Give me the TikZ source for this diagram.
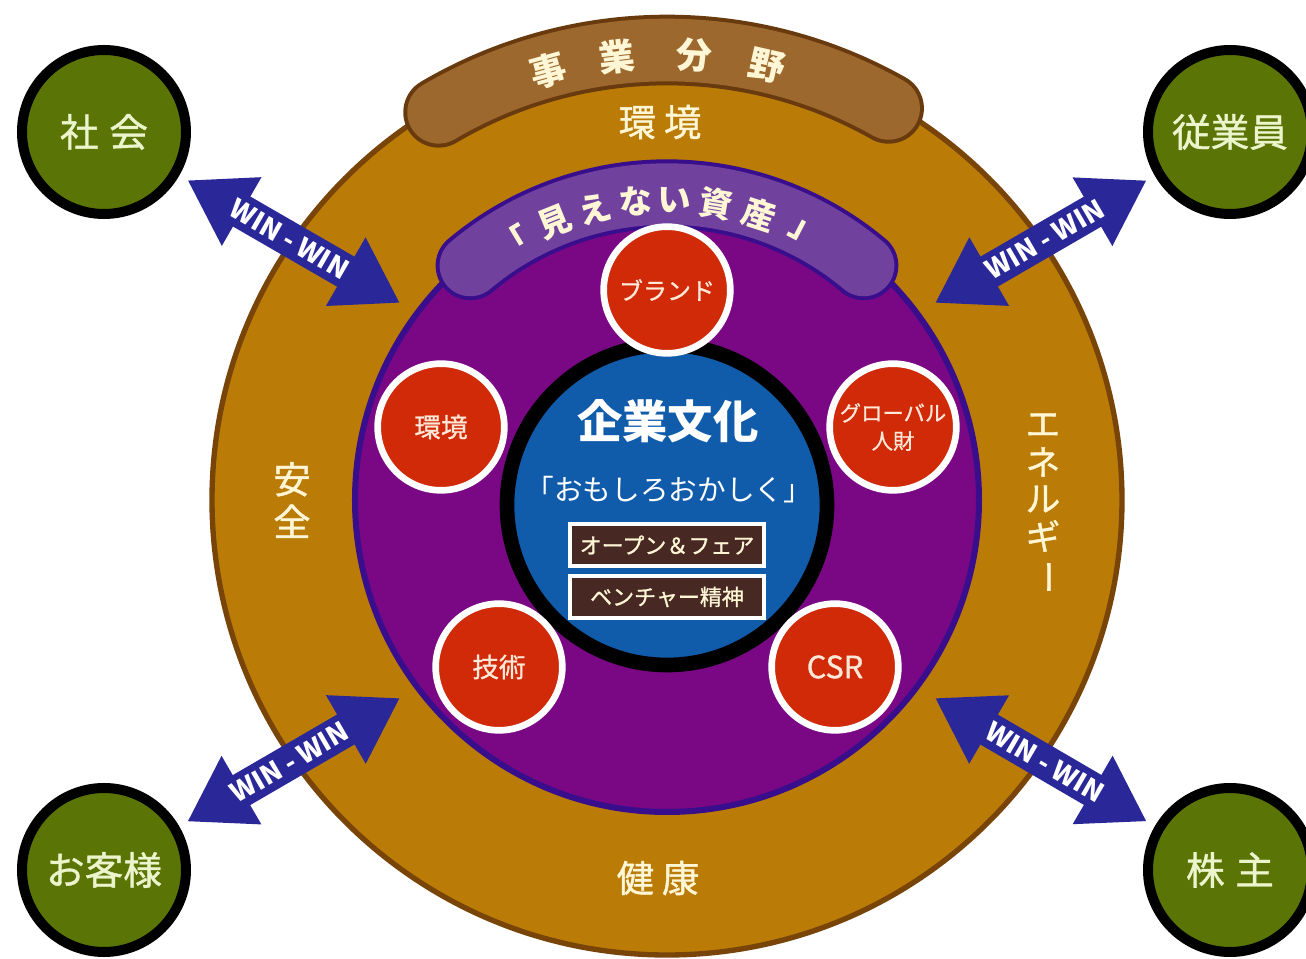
\documentclass[tikz,border=0pt]{standalone}
\usepackage{fontspec}
\setmainfont{Noto Sans CJK JP}
\newfontfamily\semibold[FakeBold=1]{Noto Sans CJK JP}
\usetikzlibrary{arrows.meta,positioning}

\definecolor{ringgold}{RGB}{186,124,6}
\definecolor{ringedge}{RGB}{120,68,8}
\definecolor{bandbrown}{RGB}{156,104,46}
\definecolor{bandedge}{RGB}{104,58,14}
\definecolor{assetpurple}{RGB}{122,8,132}
\definecolor{assetedge}{RGB}{56,14,140}
\definecolor{bandlav}{RGB}{112,66,158}
\definecolor{culblue}{RGB}{16,92,170}
\definecolor{valred}{RGB}{208,42,8}
\definecolor{tagbrown}{RGB}{72,40,34}
\definecolor{partgreen}{RGB}{90,116,6}
\definecolor{winblue}{RGB}{42,40,152}
\definecolor{creamtext}{RGB}{255,246,214}
\definecolor{partcream}{RGB}{236,244,204}
\definecolor{valcream}{RGB}{255,232,216}

\tikzset{
  ringtext/.style={text=creamtext,font=\semibold\fontsize{28}{32}\selectfont},
  bandtext/.style={text=creamtext,font=\bfseries\fontsize{27}{30}\selectfont},
  partner/.style={circle,fill=partgreen,draw=black,line width=7.5pt,minimum size=123pt,
    text=partcream,font=\semibold\fontsize{29}{32}\selectfont},
  value/.style={circle,fill=valred,draw=white,line width=5pt,minimum size=95pt,inner sep=0pt,
    text=valcream,align=center,font=\semibold\fontsize{20}{22}\selectfont},
  tagbox/.style={fill=tagbrown,draw=white,line width=3pt,minimum width=145pt,minimum height=32pt,
    inner sep=2pt,text=creamtext,font=\semibold\fontsize{16.5}{18}\selectfont},
  winwin/.style={draw=winblue,line width=26pt,
    {Triangle[length=47pt,width=56pt]}-{Triangle[length=47pt,width=56pt]}},
  wintext/.style={text=white,font=\bfseries\fontsize{20}{22}\selectfont,inner sep=0pt},
}

\begin{document}
\begin{tikzpicture}[x=0.75pt,y=0.75pt]
\useasboundingbox (-667,-459) rectangle (639,500);

% business field ring
\draw [ringedge, fill=ringgold, line width=4pt] (0,0) circle [radius=455];
\draw [bandedge, line width=53pt, line cap=round] (60.5:450) arc [start angle=60.5, end angle=120.5, radius=450];
\draw [bandbrown, line width=47pt, line cap=round] (60.5:450) arc [start angle=60.5, end angle=120.5, radius=450];
\foreach \ch/\ang [count=\i] in {事/105.5,業/96.5,分/86.5,野/77}
  \node [bandtext, rotate=\ang-90] (field\i) at (\ang:446) {\ch};

\node [ringtext] (ringtop) at (-7,378) {環\hspace{6pt}境};
\node [ringtext] (ringbot) at (-9,-378) {健\hspace{6pt}康};
\node [ringtext, align=center] (ringleft) at (-375,0) {安\\全};
\foreach \ch [count=\i] in {エ,ネ,ル,ギ}
  \node [ringtext, font=\semibold\fontsize{26}{28}\selectfont] (energy\i) at (376,112-37*\i) {\ch};
\node [ringtext, font=\semibold\fontsize{26}{28}\selectfont, rotate=-90] (energy5) at (376,-77) {ー};

% invisible assets
\draw [assetedge, fill=assetpurple, line width=4.5pt] (0,0) circle [radius=312];
\draw [assetedge, line width=52pt, line cap=round] (50:306) arc [start angle=50, end angle=130, radius=306];
\draw [bandlav, line width=46pt, line cap=round] (50:306) arc [start angle=50, end angle=130, radius=306];
\foreach \ch/\ang [count=\i] in {「/121,見/112,え/104,な/96,い/88.5,資/80.5,産/72,」/62.5}
  \node [bandtext, font=\bfseries\fontsize{25}{28}\selectfont, rotate=\ang-90] (asset\i) at (\ang:300) {\ch};

% corporate culture
\draw [black, fill=culblue, line width=11pt] (0,-5) circle [radius=160];
\node [text=white, font=\bfseries\fontsize{34}{38}\selectfont] (culture) at (1,79) {企業文化};
\node [text=white, font=\fontsize{21.5}{24}\selectfont] (motto) at (2,10) {「おもしろおかしく」};
\node [tagbox] (open) at (0,-45) {オープン＆フェア};
\node [tagbox, below=4pt of open] (venture) {ベンチャー精神};

\node [value, font=\semibold\fontsize{18}{20}\selectfont] (brand) at (0,210) {ブランド};
\node [value] (env) at (-226,73) {環境};
\node [value, font=\semibold\fontsize{16}{21}\selectfont] (talent) at (226,73) {グローバル\\人財};
\node [value] (tech) at (-168,-167) {技術};
\node [value, font=\semibold\fontsize{23}{24}\selectfont] (csr) at (168,-167) {CSR};

% stakeholders
\node [partner] (soc) at (-563,368) {社\hspace{8pt}会};
\node [partner] (emp) at (563,368) {従業員};
\node [partner] (cus) at (-563,-370) {お客様};
\node [partner] (sha) at (563,-370) {株\hspace{8pt}主};

\coordinate (tl) at (-267,197);
\coordinate (tr) at (268,197);
\coordinate (bl) at (-267,-198);
\coordinate (br) at (268,-198);

\draw [winwin, shorten <=7pt] (soc) -- (tl) node [midway, sloped, wintext] {WIN - WIN};
\draw [winwin, shorten <=7pt] (emp) -- (tr) node [midway, sloped, wintext] {WIN - WIN};
\draw [winwin, shorten <=7pt] (cus) -- (bl) node [midway, sloped, wintext] {WIN - WIN};
\draw [winwin, shorten <=7pt] (sha) -- (br) node [midway, sloped, wintext] {WIN - WIN};
\end{tikzpicture}
\end{document}
